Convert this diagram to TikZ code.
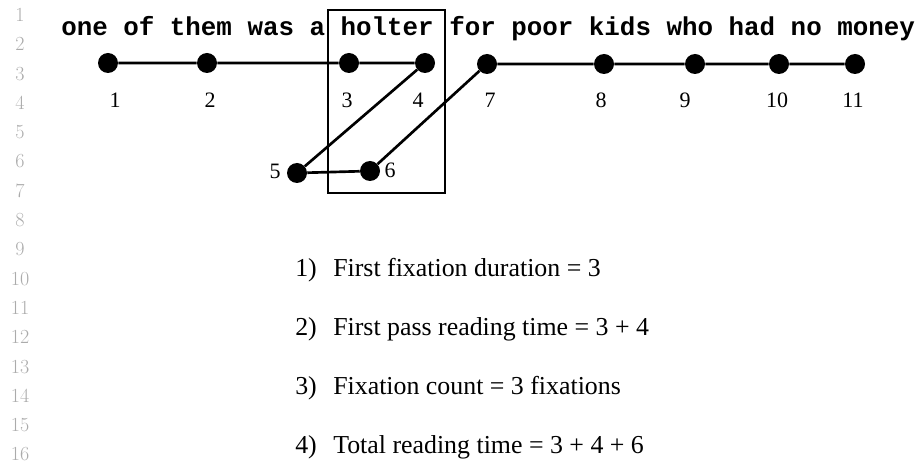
\documentclass[tikz,border=0pt]{standalone}
\usepackage{fontspec}
\newfontfamily\monofont{Liberation Mono}
\newfontfamily\serifnum{Liberation Serif}
\begin{document}
\begin{tikzpicture}[x=0.75pt,y=-0.75pt,
  dot/.style={circle,fill=black,inner sep=0pt,minimum size=15pt},
  path/.style={line width=2pt},
  lab/.style={font=\serifnum\fontsize{16.5}{19}\selectfont,inner sep=0pt},
  lineno/.style={font=\fontsize{15}{18}\selectfont,text=black!33,inner sep=0pt},
  item/.style={font=\serifnum\fontsize{19.4}{23}\selectfont,inner sep=0pt,anchor=base west},
  sent/.style={font=\monofont\bfseries\fontsize{19.4}{23}\selectfont,inner sep=0pt,anchor=base west},
  wordbox/.style={draw,line width=1.6pt,inner sep=0pt}]
\useasboundingbox (0,0) rectangle (921,463);
% line numbers
\foreach \n in {1,...,16}{
  \node[lineno] (ln\n) at (20,{15+(\n-1)*29.3}) {\n};
}
% sentence
\node[sent] (sentence) at (61,36) {one of them was a holter for poor kids who had no money};
% box around target word
\node[wordbox,minimum width=87.75pt,minimum height=137.25pt] (box) at (386.5,101.5) {};
% fixations
\node[dot] (f1) at (108,63) {};
\node[dot] (f2) at (207,63) {};
\node[dot] (f3) at (349,63) {};
\node[dot] (f4) at (425,63) {};
\node[dot] (f5) at (297,173) {};
\node[dot] (f6) at (370,171) {};
\node[dot] (f7) at (487,64) {};
\node[dot] (f8) at (604,64) {};
\node[dot] (f9) at (695,64) {};
\node[dot] (f10) at (779,64) {};
\node[dot] (f11) at (855,64) {};
\draw[path] (f1) -- (f2) -- (f3) -- (f4) -- (f5) -- (f6) -- (f7) -- (f8) -- (f9) -- (f10) -- (f11);
% fixation labels
\node[lab] (l1) at (115,100) {1};
\node[lab] (l2) at (210,100) {2};
\node[lab] (l3) at (347,100) {3};
\node[lab] (l4) at (418,100) {4};
\node[lab] (l5) at (275,171) {5};
\node[lab] (l6) at (390,170) {6};
\node[lab] (l7) at (490,100) {7};
\node[lab] (l8) at (601,100) {8};
\node[lab] (l9) at (685,100) {9};
\node[lab] (l10) at (777,100) {10};
\node[lab] (l11) at (853,100) {11};
% measures
\node[item] (n1) at (295,277) {1)};
\node[item] (t1) at (333,277) {First fixation duration = 3};
\node[item] (n2) at (295,335.5) {2)};
\node[item] (t2) at (333,335.5) {First pass reading time = 3 + 4};
\node[item] (n3) at (295,394.5) {3)};
\node[item] (t3) at (333,394.5) {Fixation count = 3 fixations};
\node[item] (n4) at (295,453) {4)};
\node[item] (t4) at (333,453) {Total reading time = 3 + 4 + 6};
\end{tikzpicture}
\end{document}
